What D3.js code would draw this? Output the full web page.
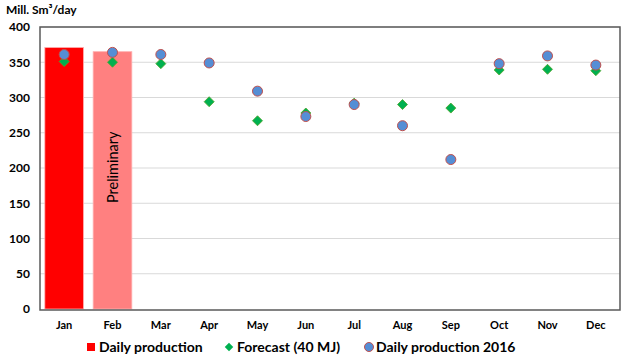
<!DOCTYPE html>
<html>
<head>
<meta charset="utf-8">
<script src="https://cdn.jsdelivr.net/npm/d3@7"></script>
<style>
  body { margin: 0; background: #fff; }
  text { font-family: Lato, "Open Sans", sans-serif; }
</style>
</head>
<body>
<div id="chart"></div>
<script>
var months = ["Jan","Feb","Mar","Apr","May","Jun","Jul","Aug","Sep","Oct","Nov","Dec"];
var dailyProduction = [371, 365];          // Jan actual, Feb preliminary
var barColors = ["#ff0000", "#ff8080"];
var forecast = [351, 350, 348, 294, 267, 278, 292, 290, 285, 339, 340, 338];
var prod2016 = [361, 364, 361, 349, 309, 273, 290, 260, 212, 348, 359, 346];
var yTicks = [0, 50, 100, 150, 200, 250, 300, 350, 400];

var width = 625, height = 358;
var margin = {top: 27, right: 5, bottom: 49, left: 40};
var plotW = width - margin.left - margin.right,
    plotH = height - margin.top - margin.bottom;

var svg = d3.select("#chart").append("svg")
    .attr("width", width)
    .attr("height", height);

var g = svg.append("g")
    .attr("transform", "translate(" + margin.left + "," + margin.top + ")");

var x = d3.scaleBand().domain(months).range([0, plotW]).paddingInner(0.2).paddingOuter(0.1);
var xc = function(m) { return x(m) + x.bandwidth() / 2; };
var y = d3.scaleLinear().domain([0, 400]).range([plotH, 0]);

// gridlines
g.append("g")
    .selectAll("line")
    .data(yTicks.slice(1))
    .enter().append("line")
      .attr("x1", 0).attr("x2", plotW)
      .attr("y1", function(d) { return y(d); })
      .attr("y2", function(d) { return y(d); })
      .attr("stroke", "#d9d9d9")
      .attr("stroke-width", 1);

// y axis labels
g.append("g")
    .call(d3.axisLeft(y).tickValues(yTicks).tickSize(0).tickPadding(10))
    .call(function(a) { a.select(".domain").remove(); })
    .selectAll("text")
      .style("font-size", "12px")
      .style("font-weight", "bold")
      .attr("fill", "#000");

// x axis labels
g.append("g")
    .attr("transform", "translate(0," + plotH + ")")
    .call(d3.axisBottom(x).tickSize(0).tickPadding(12))
    .call(function(a) { a.select(".domain").remove(); })
    .selectAll("text")
      .style("font-size", "11px")
      .style("font-weight", "bold")
      .attr("fill", "#000");

// bars
g.selectAll(".bar")
    .data(dailyProduction)
    .enter().append("rect")
      .attr("class", "bar")
      .attr("x", function(d, i) { return x(months[i]); })
      .attr("width", x.bandwidth())
      .attr("y", function(d) { return y(d); })
      .attr("height", function(d) { return plotH - y(d); })
      .attr("fill", function(d, i) { return barColors[i]; })
      .attr("stroke", "#ffb0b0")
      .attr("stroke-width", 0.8);

g.append("text")
    .attr("transform", "translate(" + (xc("Feb") + 5) + "," + y(201) + ") rotate(-90)")
    .attr("text-anchor", "middle")
    .style("font-size", "14.5px")
    .attr("fill", "#000")
    .text("Preliminary");

// forecast diamonds
g.selectAll(".fc")
    .data(forecast)
    .enter().append("path")
      .attr("class", "fc")
      .attr("d", d3.symbol().type(d3.symbolSquare).size(50))
      .attr("transform", function(d, i) { return "translate(" + xc(months[i]) + "," + y(d) + ") rotate(45)"; })
      .attr("fill", "#00b050")
      .attr("stroke", "#4ea72e")
      .attr("stroke-width", 0.8);

// 2016 circles
g.selectAll(".p16")
    .data(prod2016)
    .enter().append("circle")
      .attr("class", "p16")
      .attr("cx", function(d, i) { return xc(months[i]); })
      .attr("cy", function(d) { return y(d); })
      .attr("r", 5)
      .attr("fill", "#558ed5")
      .attr("stroke", "#c0504d")
      .attr("stroke-width", 1);

// frame
g.append("rect")
    .attr("x", 0).attr("y", 0)
    .attr("width", plotW).attr("height", plotH + 1)
    .attr("fill", "none")
    .attr("stroke", "#595959")
    .attr("stroke-width", 1.5);

// title
svg.append("text")
    .attr("x", 6).attr("y", 14)
    .style("font-size", "12px")
    .style("font-weight", "bold")
    .attr("fill", "#000")
    .text("Mill. Sm³/day");

// legend
var legend = svg.append("g").attr("transform", "translate(0,347)");
legend.append("rect")
    .attr("x", 87).attr("y", -4).attr("width", 8).attr("height", 8)
    .attr("fill", "#ff0000");
legend.append("text").attr("x", 99).attr("y", 5)
    .style("font-size", "14px").style("font-weight", "bold")
    .text("Daily production");
legend.append("path")
    .attr("d", d3.symbol().type(d3.symbolSquare).size(36))
    .attr("transform", "translate(229,0) rotate(45)")
    .attr("fill", "#00b050");
legend.append("text").attr("x", 237).attr("y", 5)
    .style("font-size", "14px").style("font-weight", "bold")
    .text("Forecast (40 MJ)");
legend.append("circle")
    .attr("cx", 369).attr("cy", 0).attr("r", 4.5)
    .attr("fill", "#558ed5").attr("stroke", "#c0504d");
legend.append("text").attr("x", 376).attr("y", 5)
    .style("font-size", "14px").style("font-weight", "bold")
    .text("Daily production 2016");
</script>
</body>
</html>
